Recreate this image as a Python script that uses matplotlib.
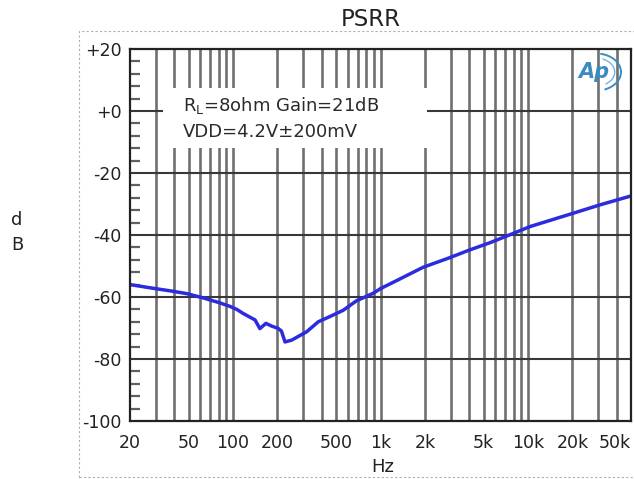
import matplotlib
matplotlib.use("Agg")
import matplotlib.pyplot as plt
from matplotlib.patches import Rectangle, Arc
import numpy as np

# ---- data ----
freq_hz = [20, 28.8, 37.3, 48.4, 62.8, 81.5, 95, 106, 117, 141, 152, 167, 183,
           202, 213, 225, 250, 316, 378, 454, 558, 689, 892, 1000, 1300,
           1948, 2878, 4036, 5520, 7944, 10300, 20200, 30700, 50000]
psrr_db = [-56.0, -57.2, -58.0, -58.9, -60.3, -61.9, -63.0, -64.0, -65.3, -67.4,
           -70.2, -68.5, -69.4, -70.1, -71.0, -74.5, -73.9, -71.2, -68.0, -66.3,
           -64.3, -61.2, -58.8, -57.3, -54.6, -50.4, -47.5, -44.8, -42.5, -39.5,
           -37.3, -33.0, -30.3, -27.4]

x_ticks = [20, 50, 100, 200, 500, 1000, 2000, 5000, 10000, 20000, 50000]
x_tick_labels = ["20", "50", "100", "200", "500", "1k", "2k", "5k", "10k", "20k", "50k"]
y_ticks = [20, 0, -20, -40, -60, -80, -100]
y_tick_labels = ["+20", "+0", "-20", "-40", "-60", "-80", "-100"]
y_minor = [v for v in range(-96, 20, 4) if v % 20 != 0]
x_grid = [m * d for d in (10, 100, 1000, 10000) for m in range(1, 10)
          if 20 < m * d < 50000]

title = "PSRR"
note1 = r"R$_{\mathrm{L}}$=8ohm Gain=21dB"
note2 = "VDD=4.2V\u00b1200mV"

W, H = 634, 479
fig = plt.figure(figsize=(W / 100, H / 100), dpi=100)
L, R, T, B = 130, 631, 49, 421
ax = fig.add_axes([L / W, 1 - B / H, (R - L) / W, (B - T) / H])

ax.set_xscale("log")
ax.set_xlim(20, 50000)
ax.set_ylim(-100, 20)

# grid lines
for xv in x_grid:
    ax.axvline(xv, color="#707070", lw=1.9, zorder=1)
for yv in [0, -20, -40, -60, -80]:
    ax.axhline(yv, color="#383838", lw=1.5, zorder=1)

# white box behind the annotation
ax.add_patch(Rectangle((0.066, 0.734), 0.527, 0.161, transform=ax.transAxes,
                       facecolor="white", edgecolor="none", zorder=2))
ax.text(0.106, 0.849, note1, transform=ax.transAxes, fontsize=13,
        color="#2a2a2a", va="center", ha="left", zorder=3)
ax.text(0.106, 0.778, note2, transform=ax.transAxes, fontsize=13,
        color="#2a2a2a", va="center", ha="left", zorder=3)

# curve
ax.plot(freq_hz, psrr_db, color="#2b2be0", lw=2.5, zorder=4)

# ticks
ax.set_xticks(x_ticks)
ax.set_xticklabels(x_tick_labels)
ax.xaxis.set_minor_locator(matplotlib.ticker.NullLocator())
ax.tick_params(axis="x", which="both", length=0, pad=9, labelsize=12.5,
               labelcolor="#222222")
labs = ax.get_xticklabels()
labs[-1].set_horizontalalignment("right")

ax.set_yticks(y_ticks)
ax.set_yticklabels(y_tick_labels)
ax.set_yticks(y_minor, minor=True)
ax.tick_params(axis="y", which="major", length=0, pad=6, labelsize=12.5,
               labelcolor="#222222")
ax.tick_params(axis="y", which="minor", direction="in", length=7, width=1.6,
               color="#606060")

for s in ax.spines.values():
    s.set_color("#222222")
    s.set_linewidth(1.6)
    s.set_zorder(5)

# AP logo
logo_c = "#3a8cc0"
ax.text(0.925, 0.938, "Ap", transform=ax.transAxes, fontsize=15, style="italic",
        fontweight="bold", color=logo_c, ha="center", va="center", zorder=3)
ax.add_patch(Arc((0.93, 0.938), 0.1, 0.1, theta1=-70, theta2=80,
                 transform=ax.transAxes, color=logo_c, lw=1.4, zorder=3))
ax.add_patch(Arc((0.93, 0.938), 0.075, 0.075, theta1=-60, theta2=70,
                 transform=ax.transAxes, color="#7ab4d8", lw=1.0, zorder=3))

# figure texts
fig.text(371 / W, 1 - 20 / H, title, fontsize=16.5, ha="center", va="center",
         color="#222222")
fig.text(383 / W, 1 - 467 / H, "Hz", fontsize=13, ha="center", va="center",
         color="#222222")
fig.text(17 / W, 1 - 220 / H, "d", fontsize=13, ha="center", va="center",
         color="#222222")
fig.text(17 / W, 1 - 245 / H, "B", fontsize=13, ha="center", va="center",
         color="#222222")

# dotted outer frame
fig.add_artist(Rectangle((79 / W, 2 / H), 1.0, 1 - 31 / H - 2 / H,
                         transform=fig.transFigure, fill=False,
                         edgecolor="#b0b0b0", lw=0.8, linestyle=(0, (2, 2))))

fig.savefig("out.png", dpi=100, facecolor="white")
